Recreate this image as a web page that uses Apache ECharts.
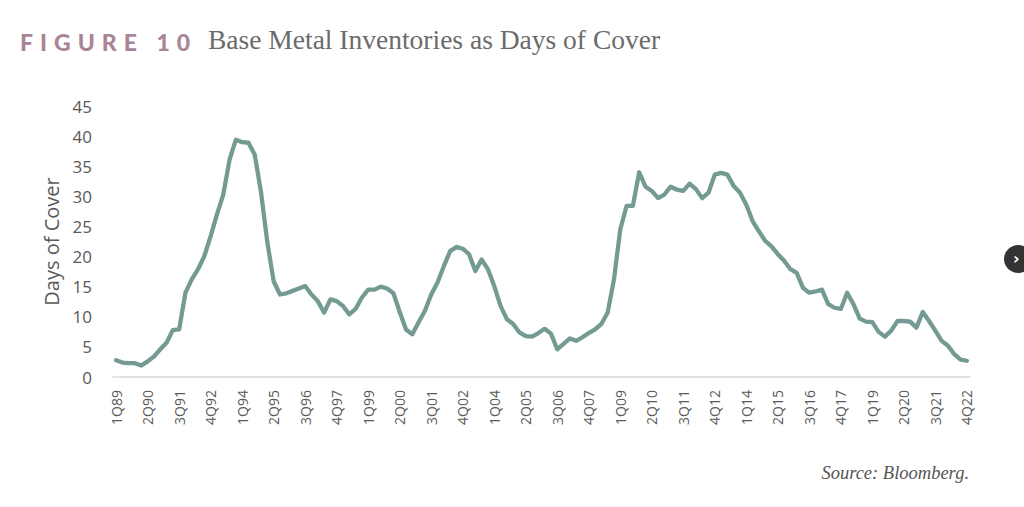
<!DOCTYPE html>
<html>
<head>
<meta charset="utf-8">
<script src="https://cdn.jsdelivr.net/npm/echarts@6/dist/echarts.min.js"></script>
<style>
html,body{margin:0;padding:0;background:#fff;}
#chart{width:1024px;height:507px;}
</style>
</head>
<body>
<div id="chart"></div>
<script>
// Quarterly categories 1Q89 .. 4Q22
var startYear = 1989;
var endYear = 2022;
var categories = [];
for (var y = startYear; y <= endYear; y++) {
  for (var q = 1; q <= 4; q++) {
    categories.push(q + 'Q' + String(y).slice(2));
  }
}

// Base metal inventories, days of cover
var daysOfCover = [
  2.8, 2.4, 2.3, 2.3, 1.9, 2.6, 3.4, 4.6, 5.7, 7.8,
  7.9, 14.0, 16.2, 17.9, 20.1, 23.4, 27.0, 30.3, 36.1, 39.4,
  39.0, 38.9, 36.9, 30.6, 22.3, 15.9, 13.7, 13.9, 14.3, 14.7,
  15.1, 13.7, 12.6, 10.7, 12.9, 12.6, 11.8, 10.4, 11.3, 13.2,
  14.5, 14.5, 15.0, 14.7, 13.9, 10.8, 7.9, 7.1, 9.1, 11.0,
  13.7, 15.7, 18.4, 20.9, 21.6, 21.3, 20.4, 17.6, 19.5, 17.9,
  15.1, 11.8, 9.6, 8.8, 7.4, 6.8, 6.7, 7.3, 8.0, 7.2,
  4.6, 5.5, 6.4, 6.0, 6.6, 7.3, 7.9, 8.8, 10.7, 16.2,
  24.5, 28.4, 28.4, 34.0, 31.6, 30.9, 29.7, 30.3, 31.6, 31.1,
  30.9, 32.1, 31.2, 29.7, 30.6, 33.6, 33.9, 33.6, 31.7, 30.6,
  28.6, 25.9, 24.2, 22.6, 21.7, 20.4, 19.3, 17.9, 17.3, 14.8,
  14.0, 14.2, 14.5, 12.1, 11.5, 11.3, 14.0, 12.1, 9.7, 9.2,
  9.1, 7.5, 6.7, 7.7, 9.3, 9.3, 9.2, 8.2, 10.8, 9.3,
  7.7, 6.0, 5.2, 3.8, 2.9, 2.7
];

var yTicks = [0, 5, 10, 15, 20, 25, 30, 35, 40, 45];

var figureLabel = 'FIGURE 10';
var titleText = 'Base Metal Inventories as Days of Cover';
var yAxisName = 'Days of Cover';
var sourceText = 'Source: Bloomberg.';

var chart = echarts.init(document.getElementById('chart'), null, {renderer: 'svg'});
chart.setOption({
  animation: false,
  backgroundColor: '#ffffff',
  grid: {left: 113, right: 54, top: 106, bottom: 130, containLabel: false},
  graphic: [
    {type: 'text', left: 20, top: 30, style: {text: figureLabel, font: '900 23px Lato', fill: '#a98498'}},
    {type: 'text', left: 208, top: 25, style: {text: titleText, font: '27.5px "Liberation Serif"', fill: '#6b6b6b'}},
    {type: 'text', right: 55, top: 463, style: {text: sourceText, font: 'italic 18.5px "Liberation Serif"', fill: '#555555'}},
    {type: 'circle', shape: {cx: 1018, cy: 259, r: 14}, style: {fill: '#333333'}},
    {type: 'text', x: 1013, y: 250, style: {text: '›', font: 'bold 16px "DejaVu Sans"', fill: '#ffffff'}}
  ],
  xAxis: {
    type: 'category',
    data: categories,
    boundaryGap: true,
    axisLine: {show: true, lineStyle: {color: '#d9d9d9', width: 1.5}},
    axisTick: {show: false},
    axisLabel: {
      interval: 4,
      rotate: 90,
      margin: 13,
      fontFamily: 'Open Sans',
      fontSize: 14,
      color: '#595959'
    },
    splitLine: {show: false}
  },
  yAxis: {
    type: 'value',
    min: yTicks[0],
    max: yTicks[yTicks.length - 1],
    interval: 5,
    name: yAxisName,
    nameLocation: 'middle',
    nameGap: 52,
    nameRotate: 90,
    nameTextStyle: {fontFamily: 'Open Sans', fontSize: 20, color: '#595959'},
    axisLine: {show: false},
    axisTick: {show: false},
    splitLine: {show: false},
    axisLabel: {margin: 21, fontFamily: 'Open Sans', fontSize: 17, color: '#595959'}
  },
  series: [{
    type: 'line',
    data: daysOfCover,
    showSymbol: false,
    symbol: 'none',
    smooth: false,
    lineStyle: {color: '#739b93', width: 4.3, join: 'round', cap: 'round'}
  }]
});

function spaceFigureLabel() {
  var texts = document.querySelectorAll('#chart svg text');
  for (var i = 0; i < texts.length; i++) {
    if (texts[i].textContent === figureLabel) {
      texts[i].style.letterSpacing = '7px';
    }
  }
}
spaceFigureLabel();
chart.on('finished', spaceFigureLabel);
setTimeout(spaceFigureLabel, 50);
</script>
</body>
</html>
